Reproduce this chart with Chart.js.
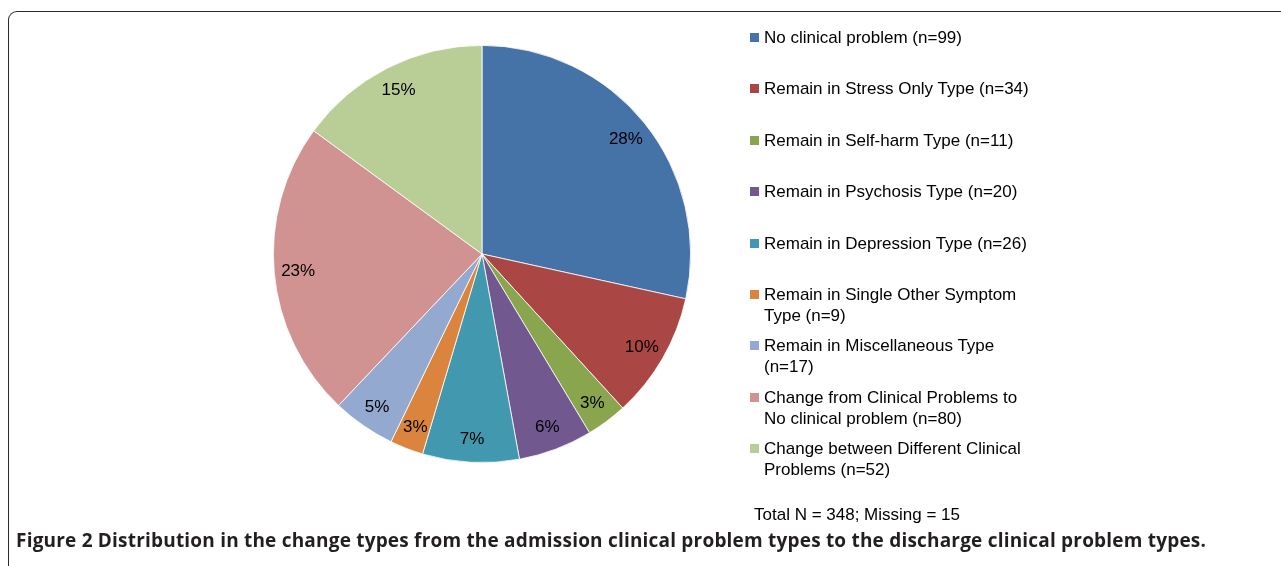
<!DOCTYPE html>
<html>
<head>
<meta charset="utf-8">
<script src="https://cdn.jsdelivr.net/npm/chart.js@4"></script>
<style>
  html, body { margin: 0; padding: 0; background: #fff; overflow: hidden; }
  body { width: 1281px; height: 566px; position: relative; }
  #frame {
    position: absolute; left: 8px; top: 11px; width: 1300px; height: 600px;
    border-left: 1.5px solid #2a2a2a; border-top: 1.5px solid #2a2a2a;
    border-top-left-radius: 9px;
  }
  #chartBox { position: absolute; left: 0; top: 0; width: 1281px; height: 566px; }
  #legend { position: absolute; left: 750px; top: 0; width: 320px;
    font-family: "Liberation Sans", Arial, sans-serif; font-size: 17px; color: #000; }
  .item { position: absolute; left: 0; width: 310px; line-height: 21px; }
  .box { position: absolute; left: 0; top: 6px; width: 9px; height: 9px; }
  .txt { position: absolute; left: 14px; width: 296px; }
  #total { position: absolute; left: 754px; top: 504px; line-height: 21px;
    font-family: "Liberation Sans", Arial, sans-serif; font-size: 17px; color: #000; }
  #caption { position: absolute; left: 16px; top: 527px; white-space: nowrap; letter-spacing: 0.2px;
    font-family: "Open Sans", sans-serif; font-weight: bold; font-size: 19px; color: #231f20; }
</style>
</head>
<body>
<div id="frame"></div>
<div id="chartBox"><canvas id="piePlot"></canvas></div>
<div id="legend"></div>
<div id="total">Total N = 348; Missing = 15</div>
<div id="caption">Figure 2 Distribution in the change types from the admission clinical problem types to the discharge clinical problem types.</div>
<script>
// category labels (legend text, line breaks as in the figure)
let changeTypes = [
    ["No clinical problem (n=99)"],
    ["Remain in Stress Only Type (n=34)"],
    ["Remain in Self-harm Type (n=11)"],
    ["Remain in Psychosis Type (n=20)"],
    ["Remain in Depression Type (n=26)"],
    ["Remain in Single Other Symptom", "Type (n=9)"],
    ["Remain in Miscellaneous Type", "(n=17)"],
    ["Change from Clinical Problems to", "No clinical problem (n=80)"],
    ["Change between Different Clinical", "Problems (n=52)"]
];

// counts per change type
let counts = [99, 34, 11, 20, 26, 9, 17, 80, 52];

let sliceColors = ['#4572A7', '#AA4643', '#89A54E', '#71588F', '#4198AF',
                   '#DB843D', '#93A9CF', '#D19392', '#B9CD96'];

// build the legend on the right
let legendDiv = document.getElementById('legend');
changeTypes.forEach((lines, i) => {
    let item = document.createElement('div');
    item.className = 'item';
    item.style.top = (27 + i * 51.4) + 'px';
    item.innerHTML = '<div class="box" style="background:' + sliceColors[i] + '"></div>' +
                     '<div class="txt">' + lines.join('<br>') + '</div>';
    legendDiv.appendChild(item);
});

let total = counts.reduce((a, b) => a + b, 0);

// draws the percent labels inside each slice
const percentLabels = {
    id: 'percentLabels',
    afterDatasetsDraw(chart) {
        let ctx = chart.ctx;
        let arcs = chart.getDatasetMeta(0).data;
        ctx.save();
        ctx.font = '17px "Liberation Sans", Arial, sans-serif';
        ctx.fillStyle = '#000';
        ctx.textAlign = 'center';
        ctx.textBaseline = 'middle';
        arcs.forEach((arc, i) => {
            let p = arc.getProps(['x', 'y', 'startAngle', 'endAngle', 'outerRadius'], true);
            let mid = (p.startAngle + p.endAngle) / 2;
            let r = p.outerRadius * 0.885;
            let pct = Math.round(counts[i] / total * 100) + '%';
            ctx.fillText(pct, p.x + Math.cos(mid) * r, p.y + Math.sin(mid) * r + 1);
        });
        ctx.restore();
    }
};

let plot = document.getElementById('piePlot').getContext('2d');

new Chart(plot, {
    type: 'pie',
    data: {
        labels: changeTypes.map(l => l.join(' ')),
        datasets: [{
            data: counts,
            backgroundColor: sliceColors,
            borderColor: '#ffffff',
            borderWidth: 0.8
        }]
    },
    options: {
        responsive: true,
        maintainAspectRatio: false,
        animation: false,
        layout: {
            padding: { left: 273, top: 45, right: 590, bottom: 103 }
        },
        plugins: {
            legend: { display: false },
            tooltip: { enabled: false }
        }
    },
    plugins: [percentLabels]
});
</script>
</body>
</html>
